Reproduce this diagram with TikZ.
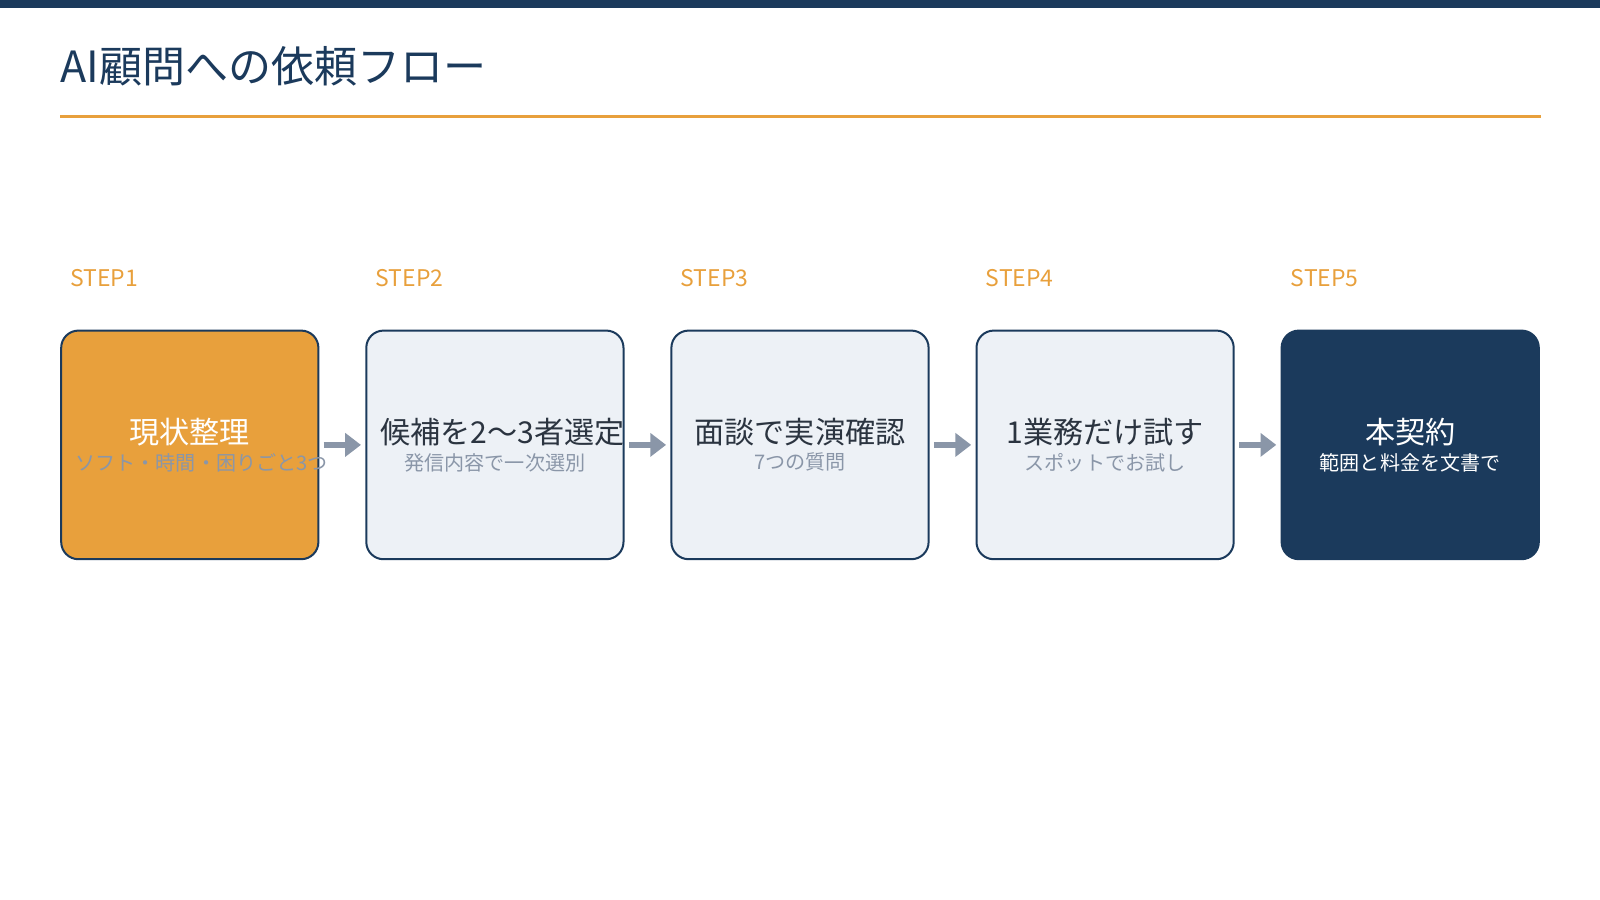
\documentclass[tikz,border=0pt]{standalone}
\usepackage{fontspec}
\setmainfont{Noto Sans CJK JP}
\usetikzlibrary{positioning,arrows.meta}
\definecolor{navy}{HTML}{1B3A5C}
\definecolor{accent}{HTML}{E8A03C}
\definecolor{pale}{HTML}{EDF1F6}
\definecolor{muted}{HTML}{8A96A8}
\definecolor{ink}{HTML}{2B3440}
\tikzset{
  stepbox/.style={draw=navy, line width=1.4pt, rounded corners=12pt, minimum width=6.3cm, minimum height=5.6cm, text width=5.6cm, align=center, inner sep=0pt},
  steplabel/.style={text=accent, font=\fontsize{16}{18}\selectfont, anchor=west, inner sep=0pt},
  flow/.style={draw=muted, line width=4.5pt, -{Triangle[length=11pt,width=16pt]}, shorten <=3pt, shorten >=3pt},
}
\newcommand{\maintxt}[1]{{\fontsize{21}{31}\selectfont #1}}
\newcommand{\subtxt}[1]{{\fontsize{14}{22}\selectfont\color{muted} #1}}
\begin{document}
\begin{tikzpicture}[x=0.025cm, y=-0.025cm]
   \useasboundingbox (0,0) rectangle (1568,882);
   \fill[navy] (0,0) rectangle (1568,8);
   \node[anchor=base west, inner sep=0pt, text=navy, font=\fontsize{30}{34}\selectfont] (title) at (59,81) {AI顧問への依頼フロー};
   \draw[accent, line width=2.2pt] (59,114) -- (1510,114);
   % steps
   \node[stepbox, fill=accent, text=white] (s1) at (186,436) {\maintxt{現状整理}\\[4pt]\subtxt{ソフト・時間・困りごと3つ}};
   \node[stepbox, fill=pale, text=ink] (s2) at (485,436) {\maintxt{候補を2〜3者選定}\\[4pt]\subtxt{発信内容で一次選別}};
   \node[stepbox, fill=pale, text=ink] (s3) at (784,436) {\maintxt{面談で実演確認}\\[4pt]\subtxt{7つの質問}};
   \node[stepbox, fill=pale, text=ink] (s4) at (1083,436) {\maintxt{1業務だけ試す}\\[4pt]\subtxt{スポットでお試し}};
   \node[stepbox, fill=navy, text=white] (s5) at (1382,436) {\maintxt{本契約}\\[4pt]{\fontsize{14}{22}\selectfont 範囲と料金を文書で}};
   % labels
   \foreach \i in {1,...,5}
      \node[steplabel] (l\i) at ([xshift=7pt, yshift=1.27cm]s\i.north west) {STEP\i};
   % arrows
   \foreach \a/\b in {s1/s2,s2/s3,s3/s4,s4/s5}
      \draw[flow] (\a) -- (\b);
\end{tikzpicture}
\end{document}
